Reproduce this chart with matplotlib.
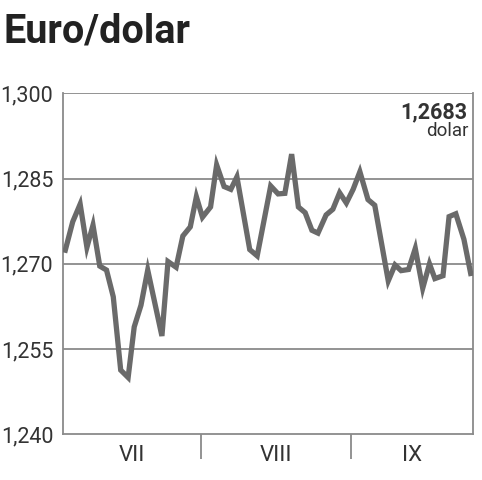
import matplotlib.pyplot as plt
from matplotlib.ticker import FixedLocator, FuncFormatter

# trading day position and EUR/USD rate
days = [0, 1.1, 2.2, 3.2, 4.1, 5.1, 6.1, 7.1, 8.2, 9.3, 10.2, 11.2, 12.2, 14.3,
        15.2, 16.4, 17.4, 18.5, 19.4, 20.3, 21.5, 22.4, 23.5, 24.5, 25.4, 27.3,
        28.4, 30.4, 31.5, 32.5, 33.5, 34.5, 35.5, 36.5, 37.4, 38.6, 39.6, 40.6,
        41.6, 42.6, 43.6, 44.8, 45.8, 47.8, 48.8, 49.7, 50.8, 51.8, 52.9, 53.9,
        54.7, 55.9, 56.8, 57.8, 59.0, 60.0]
rate = [1.2724, 1.2774, 1.2805, 1.2729, 1.2768, 1.2696, 1.2689, 1.2642, 1.2513,
        1.2500, 1.2589, 1.2627, 1.2689, 1.2573, 1.2704, 1.2694, 1.2749, 1.2765,
        1.2818, 1.2782, 1.2800, 1.2874, 1.2836, 1.2831, 1.2853, 1.2725, 1.2714,
        1.2837, 1.2823, 1.2824, 1.2893, 1.2800, 1.2790, 1.2759, 1.2754, 1.2786,
        1.2796, 1.2825, 1.2807, 1.2831, 1.2862, 1.2813, 1.2803, 1.2670, 1.2698,
        1.2688, 1.2690, 1.2727, 1.2657, 1.2700, 1.2674, 1.2679, 1.2783, 1.2788,
        1.2743, 1.2683]

y_ticks = [1.240, 1.255, 1.270, 1.285, 1.300]
month_bounds = [20.1, 42.3]
month_labels = ["VII", "VIII", "IX"]
month_centers = [9.9, 31.2, 51.3]
last_value = "1,2683"

fig = plt.figure(figsize=(4.82, 4.80), dpi=100)
ax = fig.add_axes([0.1307, 0.0952, 0.8506, 0.7104])

grid_col = "#8a8a8a"
ax.set_xlim(-0.34, 60.34)
ax.set_ylim(1.240, 1.300)

for v in y_ticks[1:]:
    ax.axhline(v, color=grid_col, lw=1.3, zorder=1)

ax.plot(days, rate, color="#6a6a6a", lw=3.8, solid_joinstyle="miter", zorder=3)

for s in ["left", "right", "bottom"]:
    ax.spines[s].set_color(grid_col)
    ax.spines[s].set_linewidth(1.3)
ax.spines["top"].set_visible(False)

ax.yaxis.set_major_locator(FixedLocator(y_ticks))
ax.yaxis.set_major_formatter(FuncFormatter(lambda v, p: f"{v:.3f}".replace(".", ",")))
ax.tick_params(axis="y", length=0, pad=7, labelsize=15.5, labelcolor="#333333")

# month separators below the axis
ax.xaxis.set_major_locator(FixedLocator(month_bounds))
ax.xaxis.set_major_formatter(FuncFormatter(lambda v, p: ""))
ax.tick_params(axis="x", length=18, width=1.3, color=grid_col, direction="out")
for x, lab in zip(month_centers, month_labels):
    ax.text(x, -0.063, lab, transform=ax.get_xaxis_transform(), ha="center", va="center",
            fontsize=16, color="#333333", family="Roboto")

for lab in ax.get_yticklabels():
    lab.set_family("Roboto")

ax.text(0.985, 0.945, last_value, transform=ax.transAxes, ha="right", va="center",
        fontsize=15.5, fontweight="bold", color="#333333", family="Roboto")
ax.text(0.99, 0.89, "dolar", transform=ax.transAxes, ha="right", va="center",
        fontsize=13.5, color="#333333", family="Roboto")

fig.text(0.008, 0.935, "Euro/dolar", ha="left", va="center", fontsize=28.5,
         fontweight="bold", color="#222222", family="Roboto")

fig.savefig("out.png", dpi=100)
